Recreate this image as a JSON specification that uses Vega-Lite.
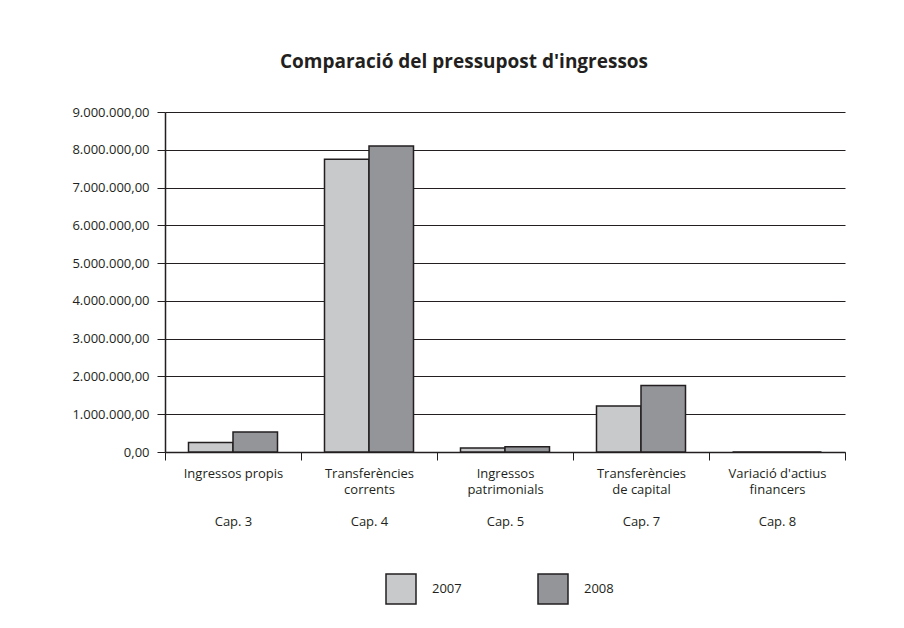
{
  "$schema": "https://vega.github.io/schema/vega-lite/v6.json",
  "width": 680,
  "height": 340,
  "autosize": {"type": "none"},
  "padding": {"left": 165, "top": 112, "right": 59, "bottom": 176},
  "background": "white",
  "title": {
    "text": "Comparació del pressupost d'ingressos",
    "font": "Open Sans",
    "fontSize": 19,
    "fontWeight": "bold",
    "color": "#231f20",
    "anchor": "middle",
    "dx": -41,
    "offset": 34
  },
  "data": {
    "values": [
      {"etiqueta": "Ingressos propis|\u200b|\u200b|Cap. 3", "any": "2007", "import": 250000},
      {"etiqueta": "Ingressos propis|\u200b|\u200b|Cap. 3", "any": "2008", "import": 530000},
      {"etiqueta": "Transferències|corrents|\u200b|Cap. 4", "any": "2007", "import": 7750000},
      {"etiqueta": "Transferències|corrents|\u200b|Cap. 4", "any": "2008", "import": 8100000},
      {"etiqueta": "Ingressos|patrimonials|\u200b|Cap. 5", "any": "2007", "import": 105000},
      {"etiqueta": "Ingressos|patrimonials|\u200b|Cap. 5", "any": "2008", "import": 140000},
      {"etiqueta": "Transferències|de capital|\u200b|Cap. 7", "any": "2007", "import": 1220000},
      {"etiqueta": "Transferències|de capital|\u200b|Cap. 7", "any": "2008", "import": 1760000},
      {"etiqueta": "Variació d'actius|financers|\u200b|Cap. 8", "any": "2007", "import": 0},
      {"etiqueta": "Variació d'actius|financers|\u200b|Cap. 8", "any": "2008", "import": 0}
    ]
  },
  "mark": {"type": "bar", "stroke": "#231f20", "strokeWidth": 1.5},
  "encoding": {
    "x": {
      "field": "etiqueta",
      "type": "nominal",
      "sort": null,
      "scale": {"paddingInner": 0, "paddingOuter": 0},
      "axis": {
        "title": null,
        "labelAngle": 0,
        "labelExpr": "isString(datum.value) ? split(datum.value, '|') : ''",
        "labelLineHeight": 16,
        "labelFont": "Open Sans",
        "labelFontSize": 13,
        "labelColor": "#231f20",
        "labelPadding": 7,
        "tickBand": "extent",
        "tickSize": 8,
        "tickColor": "#231f20",
        "tickWidth": 1,
        "domain": true,
        "domainColor": "#231f20",
        "domainWidth": 1.5,
        "grid": false
      }
    },
    "xOffset": {
      "field": "any",
      "type": "nominal",
      "scale": {"paddingOuter": 0.528, "paddingInner": 0}
    },
    "y": {
      "field": "import",
      "type": "quantitative",
      "scale": {"domain": [0, 9000000], "nice": false},
      "axis": {
        "title": null,
        "values": [0, 1000000, 2000000, 3000000, 4000000, 5000000, 6000000, 7000000, 8000000, 9000000],
        "format": ",.2f",
        "labelFont": "Open Sans",
        "labelFontSize": 13,
        "labelColor": "#231f20",
        "labelPadding": 8,
        "tickSize": 8,
        "tickColor": "#231f20",
        "domain": true,
        "domainColor": "#231f20",
        "domainWidth": 1.5,
        "grid": true,
        "gridColor": "#231f20",
        "gridWidth": 1.2
      }
    },
    "fill": {
      "field": "any",
      "type": "nominal",
      "scale": {"domain": ["2007", "2008"], "range": ["#c8c9cb", "#939598"]},
      "legend": {
        "title": null,
        "orient": "none",
        "legendX": 220,
        "legendY": 461,
        "direction": "horizontal",
        "padding": 0,
        "symbolType": "square",
        "symbolSize": 900,
        "symbolStrokeColor": "#231f20",
        "symbolStrokeWidth": 1.5,
        "labelFont": "Open Sans",
        "labelFontSize": 13,
        "labelColor": "#231f20",
        "labelOffset": 15,
        "columnPadding": 73
      }
    }
  },
  "config": {
    "locale": {
      "number": {"decimal": ",", "thousands": ".", "grouping": [3], "currency": ["", " €"]}
    },
    "view": {"stroke": null}
  }
}
